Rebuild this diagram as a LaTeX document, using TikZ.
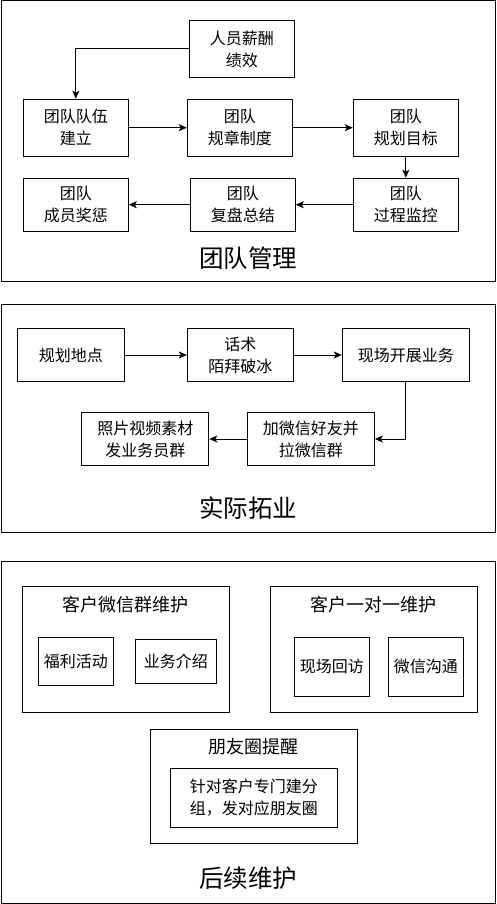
\documentclass[tikz,border=0pt]{standalone}
\usepackage{fontspec}
\setmainfont{Noto Sans CJK SC}
\usepackage{tikz}
\usetikzlibrary{arrows.meta}

\begin{document}
\begin{tikzpicture}[x=1pt,y=-1pt,line width=1pt,
        box/.style={draw,align=center,inner sep=0pt,minimum width=105pt,
                    minimum height=57pt,font=\fontsize{16}{22}\selectfont},
        cont/.style={draw,inner sep=0pt},
        ttl/.style={font=\fontsize{18}{22}\selectfont},
        big/.style={font=\fontsize{24.5}{28}\selectfont},
        arr/.style={-{Stealth[length=8pt,width=7pt,inset=2pt]}}]
        \useasboundingbox (0,0) rectangle (496,904);
        % panel frames
        \draw (1,1) rectangle (495,281);
        \draw (1,304) rectangle (495,532);
        \draw (1,561) rectangle (495,903);
        % team management
        \node[box] (pay) at (241.8,49) {人员薪酬\\绩效};
        \foreach \n/\x/\lbl in {build/75.8/{团队队伍\\建立},rule/239.8/{团队\\规章制度},
                                goal/405.8/{团队\\规划目标}}
          \node[box] (\n) at (\x,127.7) {\lbl};
        \foreach \n/\x/\lbl in {award/75.8/{团队\\成员奖惩},review/242.8/{团队\\复盘总结},
                                monitor/405.8/{团队\\过程监控}}
          \node[box,minimum height=53pt] (\n) at (\x,204.7) {\lbl};
        \draw[arr] (pay.west) -| (build.north);
        \draw[arr] (build) -- (rule);
        \draw[arr] (rule) -- (goal);
        \draw[arr] (goal) -- (monitor);
        \draw[arr] (monitor) -- (review);
        \draw[arr] (review) -- (award);
        \node[big] (t1) at (248,258) {团队管理};
        % field work
        \node[box,minimum width=107pt,minimum height=53pt] (place) at (70.8,355) {规划地点};
        \node[box,minimum width=106pt,minimum height=53pt] (talk) at (240.3,355) {话术\\陌拜破冰};
        \node[box,minimum width=127pt,minimum height=53pt] (site) at (405.8,355) {现场开展业务};
        \node[box,minimum width=127pt,minimum height=53pt] (photo) at (145.3,439) {照片视频素材\\发业务员群};
        \node[box,minimum width=127pt,minimum height=53pt] (wechat) at (310.8,439) {加微信好友并\\拉微信群};
        \draw[arr] (place) -- (talk);
        \draw[arr] (talk) -- (site);
        \draw[arr] (site.south) |- (wechat.east);
        \draw[arr] (wechat) -- (photo);
        \node[big] (t2) at (248,508.3) {实际拓业};
        % follow-up
        \node[cont,minimum width=207pt,minimum height=126pt] (grp) at (125.8,649.8) {};
        \node[ttl] at (125,604.3) {客户微信群维护};
        \node[box,minimum width=75pt,minimum height=48pt] (welfare) at (75.8,661.2) {福利活动};
        \node[box,minimum width=81pt,minimum height=44pt] (intro) at (175.8,661.2) {业务介绍};
        \node[cont,minimum width=207pt,minimum height=126pt] (one) at (373.8,649.8) {};
        \node[ttl] at (373.3,604.3) {客户一对一维护};
        \node[box,minimum width=75pt,minimum height=59pt] (visit) at (331.8,666.7) {现场回访};
        \node[box,minimum width=75pt,minimum height=59pt] (chat) at (425.8,666.7) {微信沟通};
        \node[cont,minimum width=207pt,minimum height=114pt] (moment) at (253.8,786.2) {};
        \node[ttl] at (253.3,746.7) {朋友圈提醒};
        \node[box,minimum width=167pt,minimum height=59pt] (split) at (253.8,797.7)
          {针对客户专门建分\\组，发对应朋友圈};
        \node[big] (t3) at (248,878.3) {后续维护};
      \end{tikzpicture}
\end{document}
